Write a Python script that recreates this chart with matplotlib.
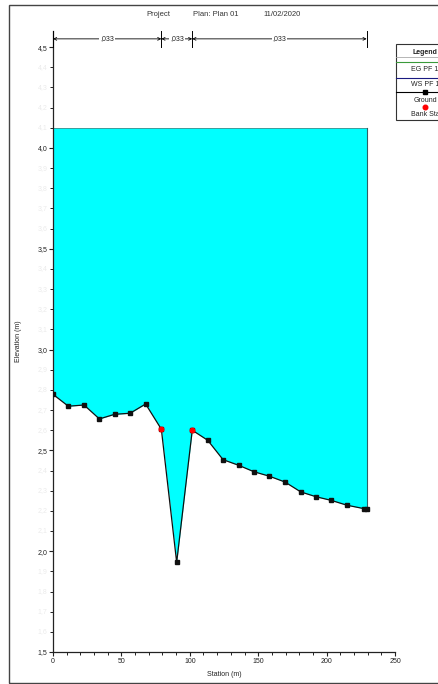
import matplotlib
matplotlib.use('Agg')
import matplotlib.pyplot as plt
from matplotlib.ticker import MultipleLocator, FuncFormatter
from matplotlib.patches import Rectangle
from matplotlib.lines import Line2D
import numpy as np

plt.rcParams['font.family'] = ['Liberation Sans', 'DejaVu Sans']

# ---- data ----
station = [0, 11.2, 22.7, 33.9, 45.1, 56.3, 67.7, 79.2, 90.4, 101.8, 113.1,
           124.3, 135.7, 146.9, 158.1, 169.6, 181.1, 192.3, 203.4, 214.9,
           227.3, 229.3]
elev = [2.778, 2.719, 2.725, 2.656, 2.679, 2.684, 2.730, 2.605, 1.945, 2.600,
        2.550, 2.454, 2.426, 2.394, 2.372, 2.343, 2.294, 2.270, 2.252, 2.228,
        2.211, 2.211]
bank_station = [79.2, 101.8]
bank_elev = [2.605, 2.600]
ws_elev = 4.10
n_break = [0, 79.2, 101.8, 229.3]
n_values = [",033", ",033", ",033"]
legend_labels = ["EG PF 1", "WS PF 1", "Ground", "Bank Sta"]

W, H = 438, 684
fig = plt.figure(figsize=(W / 100, H / 100), dpi=100)
ax = fig.add_axes([53 / W, 1 - 652 / H, (395 - 53) / W, (652 - 31) / H])

fs = 5

# water fill
ax.fill_between(station, elev, ws_elev, color='#00ffff', lw=0, zorder=1)
ax.plot([station[0], station[-1]], [ws_elev, ws_elev], color='#3c8c8c', lw=0.6, zorder=2)
ax.plot([station[-1], station[-1]], [elev[-1], ws_elev], color='#2f5f66', lw=0.8, zorder=2)

# ground
ax.plot(station, elev, color='#111111', lw=0.9, marker='s', ms=2.5, zorder=3)
ax.plot(bank_station, bank_elev, 'o', color='red', ms=3.3, zorder=4)

# Manning n annotations
y_n = 4.541
for xb in n_break:
    ax.plot([xb, xb], [4.503, 4.578], color='black', lw=0.7, clip_on=False, zorder=5)
for i, lab in enumerate(n_values):
    x0, x1 = n_break[i], n_break[i + 1]
    ax.annotate('', xy=(x0, y_n), xytext=(x1, y_n),
                arrowprops=dict(arrowstyle='<->', lw=0.6, color='black',
                                shrinkA=0, shrinkB=0, mutation_scale=5),
                annotation_clip=False, zorder=5)
    ax.text((x0 + x1) / 2, y_n, lab, ha='center', va='center', fontsize=fs,
            color='#222222', zorder=6,
            bbox=dict(facecolor='white', edgecolor='none', pad=0.6))

ax.set_xlim(0, 250)
ax.set_ylim(1.5, 4.58)

for s in ['top', 'right']:
    ax.spines[s].set_visible(False)
for s in ['left', 'bottom']:
    ax.spines[s].set_linewidth(0.9)
    ax.spines[s].set_color('#222222')

comma = FuncFormatter(lambda v, p: ('%g' % v).replace('.', ','))
ax.xaxis.set_major_locator(MultipleLocator(50))
ax.xaxis.set_minor_locator(MultipleLocator(10))
ax.yaxis.set_major_locator(MultipleLocator(0.5))
ax.yaxis.set_minor_locator(MultipleLocator(0.1))
ax.xaxis.set_major_formatter(comma)
ax.yaxis.set_major_formatter(FuncFormatter(lambda v, p: ('%.1f' % v).replace('.', ',')))
ax.tick_params(axis='both', which='major', length=3, width=0.8, labelsize=fs, pad=1,
               colors='#222222')
ax.tick_params(axis='both', which='minor', length=2, width=0.7, colors='#222222')

# faint minor labels on y axis
for v in np.arange(1.6, 4.55, 0.1):
    if abs(round(v * 2) - v * 2) < 1e-6:
        continue
    ax.text(-4, v, ('%.1f' % v).replace('.', ','), ha='right', va='center',
            fontsize=fs, color='#ebebeb', clip_on=False)

ax.set_xlabel('Station (m)', fontsize=fs, labelpad=5, color='#222222')
ax.set_ylabel('Elevation (m)', fontsize=fs, labelpad=11, color='#222222')

# title pieces
ty = 1 - 14 / H
fig.text(146 / W, ty, 'Project', fontsize=fs + 0.5, ha='left', va='center', color='#333333')
fig.text(193 / W, ty, 'Plan: Plan 01', fontsize=fs + 0.5, ha='left', va='center', color='#333333')
fig.text(263 / W, ty, '11/02/2020', fontsize=fs + 0.5, ha='left', va='center', color='#333333')

# outer frame
fig.patches.append(Rectangle((9 / W, 1 - 683 / H), 1.2, 678 / H, transform=fig.transFigure,
                             fill=False, edgecolor='#444444', lw=1.0))

# legend (manual)
lx0, ly0 = 396, 44.3
lw_box = 60
lh = 120 - 44.3
fig.patches.append(Rectangle((lx0 / W, 1 - (ly0 + lh) / H), lw_box / W, lh / H,
                             transform=fig.transFigure, facecolor='white',
                             edgecolor='#333333', lw=0.8))
cx = 425 / W
def fy(p):
    return 1 - p / H
fig.text(cx, fy(52.3), 'Legend', fontsize=fs, ha='center', va='center',
         fontweight='bold', color='#222222')
fig.add_artist(Line2D([lx0 / W, (lx0 + lw_box) / W], [fy(57.3), fy(57.3)],
                      color='#aaaaaa', lw=0.6))
fig.add_artist(Line2D([lx0 / W, (lx0 + lw_box) / W], [fy(62), fy(62)],
                      color='#3a9a3a', lw=0.8))
fig.text(cx, fy(69.5), legend_labels[0], fontsize=fs, ha='center', va='center', color='#222222')
fig.add_artist(Line2D([lx0 / W, (lx0 + lw_box) / W], [fy(78), fy(78)],
                      color='#1a1a80', lw=0.8))
fig.text(cx, fy(84.5), legend_labels[1], fontsize=fs, ha='center', va='center', color='#222222')
fig.add_artist(Line2D([lx0 / W, (lx0 + lw_box) / W], [fy(92.3), fy(92.3)],
                      color='black', lw=0.8))
fig.add_artist(Line2D([cx], [fy(92.3)], color='black', marker='s', ms=2.2, lw=0))
fig.text(cx, fy(100), legend_labels[2], fontsize=fs, ha='center', va='center', color='#222222')
fig.add_artist(Line2D([cx], [fy(107.3)], color='red', marker='o', ms=3.3, lw=0))
fig.text(cx, fy(115), legend_labels[3], fontsize=fs, ha='center', va='center', color='#222222')

fig.savefig('out.png', dpi=100)
